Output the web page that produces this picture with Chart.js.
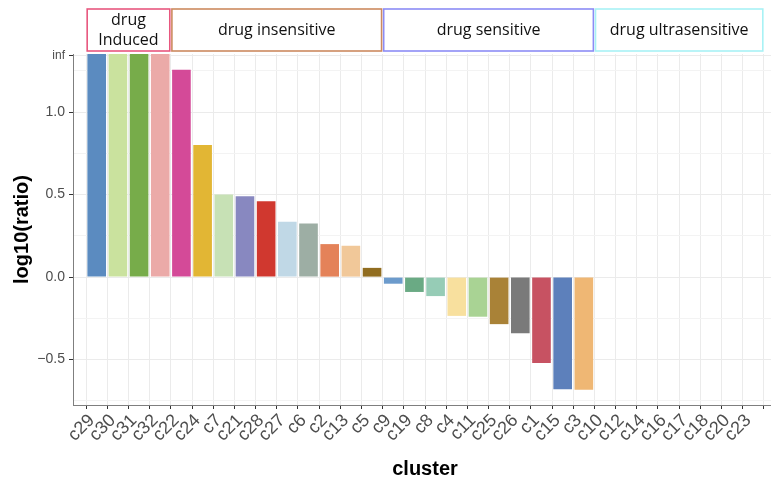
<!DOCTYPE html>
<html>
<head>
<meta charset="utf-8">
<script src="https://cdn.jsdelivr.net/npm/chart.js@4.4.1/dist/chart.umd.min.js"></script>
<style>
  html, body { margin: 0; padding: 0; background: #ffffff; overflow: hidden; width: 771px; height: 481px; }
  #wrap { position: absolute; left: 0; top: 0; width: 790px; height: 481px; }
</style>
</head>
<body>
<div id="wrap"><canvas id="c" width="790" height="481"></canvas></div>
<script>
// ---------- data ----------
const categories = ["c29","c30","c31","c32","c22","c24","c7","c21","c28","c27","c6","c2","c13","c5",
                    "c9","c19","c8","c4","c11","c25","c26","c1","c15","c3",
                    "c10","c12","c14","c16","c17","c18","c20","c23"];
const values = [Infinity, Infinity, Infinity, Infinity, 1.256, 0.80, 0.50, 0.49, 0.46, 0.335, 0.325, 0.20, 0.19, 0.056,
                -0.04, -0.09, -0.115, -0.235, -0.24, -0.285, -0.34, -0.52, -0.68, -0.683,
                null, null, null, null, null, null, null, null];
const barColors = ["#5B8BC0","#CAE29E","#77AC4A","#EBAAA8","#D44A98","#E2B634","#C7E1B5","#8888C0","#D0382F",
                   "#C0D8E6","#9DAEA4","#E48259","#F1C899","#916D20","#6C9BCC","#6AAA84","#96CCB6","#F8E09E",
                   "#A9D394","#A98237","#7A7A7A","#C75262","#5D80BB","#EFB774"];
const majorTicks = [-0.5, 0, 0.5, 1.0];
const minorTicks = [-0.75, -0.25, 0.25, 0.75, 1.25];
const INF_TICK = 1.34;
const groupLabels = [["drug","Induced"], ["drug insensitive"], ["drug sensitive"], ["drug ultrasensitive"]];
const groupFirst = [0, 4, 14, 24];
const groupLast  = [3, 13, 23, 31];
const groupColors = ["#E8577F", "#CC8A5F", "#8C8CF5", "#A8F2F5"];

const Y_MIN = -0.775, Y_MAX = 1.352;

const points = [];
const colors = [];
values.forEach((v, i) => {
  if (v === null) return;
  points.push({ x: i, y: v === Infinity ? Y_MAX : v });
  colors.push(barColors[i]);
});

const fmt = v => {
  if (v === INF_TICK) return "inf";
  if (majorTicks.indexOf(v) < 0) return "";
  const s = Math.abs(v).toFixed(1);
  return v < 0 ? "\u2212" + s : s;
};
const isMajor = v => majorTicks.indexOf(v) >= 0 || v === INF_TICK;

const groupBoxes = {
  id: "groupBoxes",
  afterDraw(chart) {
    const ctx = chart.ctx;
    const xs = chart.scales.x;
    ctx.save();
    for (let g = 0; g < groupLabels.length; g++) {
      const x0 = xs.getPixelForValue(groupFirst[g] - 0.45);
      const x1 = xs.getPixelForValue(groupLast[g] + 0.45);
      const y0 = 9, y1 = 51;
      ctx.fillStyle = "#ffffff";
      ctx.fillRect(x0, y0, x1 - x0, y1 - y0);
      ctx.strokeStyle = groupColors[g];
      ctx.lineWidth = 1.6;
      ctx.strokeRect(x0, y0, x1 - x0, y1 - y0);
      ctx.fillStyle = "#111111";
      ctx.font = "16px 'Open Sans'";
      ctx.textAlign = "center";
      ctx.textBaseline = "middle";
      const lines = groupLabels[g];
      const cx = (x0 + x1) / 2, cy = (y0 + y1) / 2;
      const lh = 20;
      lines.forEach((t, k) => {
        ctx.fillText(t, cx, cy + (k - (lines.length - 1) / 2) * lh);
      });
    }
    ctx.restore();
  }
};

new Chart(document.getElementById("c"), {
  type: "bar",
  data: {
    datasets: [{
      data: points,
      backgroundColor: colors,
      borderWidth: 0,
      barPercentage: 0.88,
      categoryPercentage: 1.0
    }]
  },
  options: {
    responsive: false,
    animation: false,
    devicePixelRatio: 1,
    layout: { padding: { top: 54, left: 0, right: 13, bottom: 0 } },
    plugins: { legend: { display: false }, tooltip: { enabled: false } },
    scales: {
      x: {
        type: "linear",
        min: -0.6,
        max: categories.length - 0.4,
        afterBuildTicks(scale) {
          scale.ticks = categories.map((c, i) => ({ value: i }));
        },
        afterFit(scale) { scale.height = 76; },
        ticks: {
          autoSkip: false,
          minRotation: 45,
          maxRotation: 45,
          padding: 1,
          labelOffset: -5,
          color: "#4D4D4D",
          font: { family: "'Liberation Sans', Arial, sans-serif", size: 18 },
          callback: (v) => categories[v] !== undefined ? categories[v] : ""
        },
        grid: { color: "#EBEBEB", lineWidth: 1, tickLength: 4, tickColor: "#333333", drawTicks: true },
        border: { display: true, color: "#7F7F7F", width: 1 },
        title: {
          display: true, text: "cluster", color: "#000000",
          font: { family: "'Liberation Sans', Arial, sans-serif", size: 20, weight: "bold" },
          padding: { top: 7, bottom: 0 }
        }
      },
      y: {
        type: "linear",
        min: Y_MIN,
        max: Y_MAX,
        afterBuildTicks(scale) {
          scale.ticks = minorTicks.concat(majorTicks).concat([INF_TICK]).sort((a, b) => a - b).map(v => ({ value: v }));
        },
        afterFit(scale) { scale.width = 73; },
        ticks: {
          padding: 4,
          color: "#4D4D4D",
          font: (ctx) => ({ family: "'Liberation Sans', Arial, sans-serif", size: (ctx.tick && ctx.tick.value === INF_TICK) ? 12 : 14 }),
          callback: (v) => fmt(v)
        },
        grid: {
          color: (ctx) => (ctx.tick && isMajor(ctx.tick.value)) ? "#EBEBEB" : "#F3F3F3",
          lineWidth: 1,
          tickLength: 4,
          tickColor: (ctx) => (ctx.tick && isMajor(ctx.tick.value)) ? "#333333" : "rgba(0,0,0,0)"
        },
        border: { display: true, color: "#7F7F7F", width: 1 },
        title: {
          display: true, text: "log10(ratio)", color: "#000000",
          font: { family: "'Liberation Sans', Arial, sans-serif", size: 20, weight: "bold" },
          padding: { top: 10, bottom: 0 }
        }
      }
    }
  },
  plugins: [groupBoxes]
});
</script>
</body>
</html>
